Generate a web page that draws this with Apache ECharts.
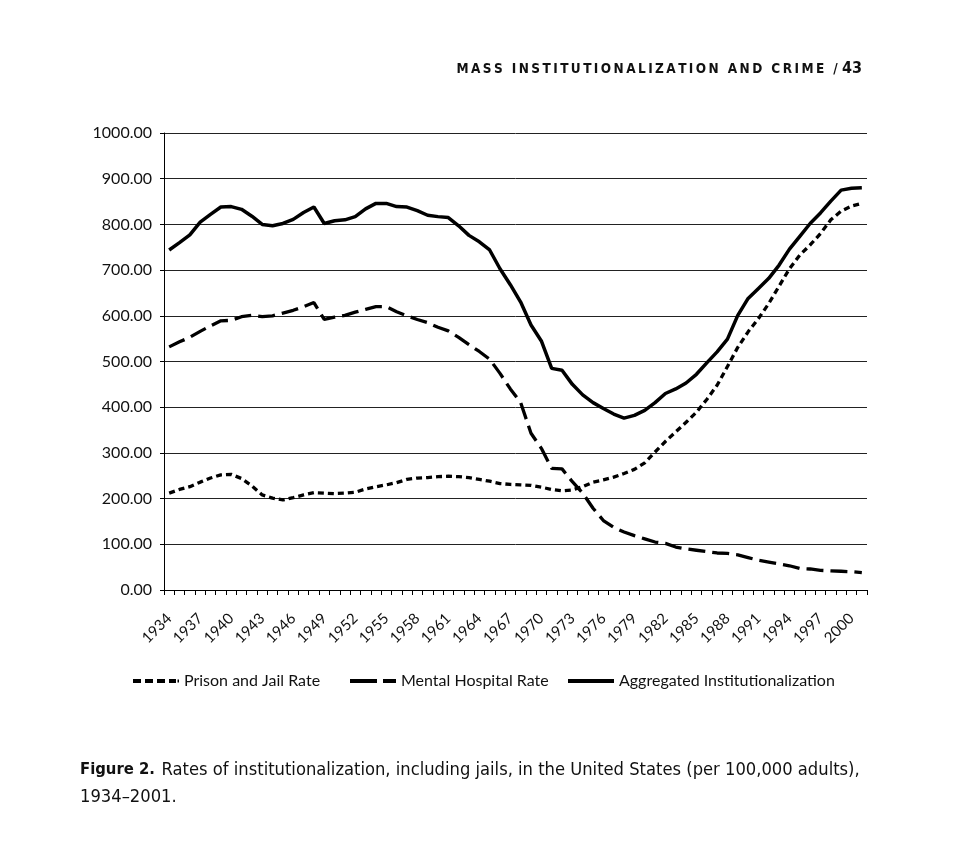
<!DOCTYPE html>
<html>
<head>
<meta charset="utf-8">
<script src="https://cdn.jsdelivr.net/npm/echarts@6/dist/echarts.min.js"></script>
<style>
html,body{margin:0;padding:0;background:#fff;}
#c{width:958px;height:852px;}
</style>
</head>
<body>
<div id="c"></div>
<script>
const years = [];
for (let y = 1934; y <= 2001; y++) years.push(String(y));

const prisonJail = [212,220,226,236,245,252,253,244,228,208,201,197,202,208,213,212,211,212,214,221,
  226,230,235,242,245,246,248,249,248,246,242,238,233,231,230,229,225,220,217,219,
  226,236,241,247,255,264,278,302,325,346,367,389,417,448,489,531,565,594,627,665,
  703,733,755,780,810,829,840,846];

const mentalHospital = [532,543,553,566,578,589,590,598,601,598,600,606,612,620,629,592,597,601,608,614,
  620,620,609,600,592,585,575,567,553,537,522,505,474,440,410,343,310,266,265,237,
  212,179,152,137,127,119,112,105,102,94,90,87,84,81,80,77,71,65,61,57,
  53,47,46,43,42,41,40,38];

const aggregated = [744,760,777,805,822,838,839,833,818,800,797,802,811,826,838,802,808,810,817,834,
  846,846,839,838,830,820,817,815,797,776,762,744,703,668,630,580,545,485,481,450,
  427,410,397,385,376,382,393,410,430,440,453,472,497,521,549,601,638,660,682,711,
  746,774,802,825,851,875,879,880];

const seriesNames = ['Prison and Jail Rate','Mental Hospital Rate','Aggregated Institutionalization'];
const headerText = 'MASS INSTITUTIONALIZATION AND CRIME /';
const headerPage = '43';
const captionBold = 'Figure 2.';
const captionLine1 = 'Rates of institutionalization, including jails, in the United States (per 100,000 adults),';
const captionLine2 = '1934\u20132001.';

const chart = echarts.init(document.getElementById('c'), null, {renderer:'canvas'});
const lblFont = 'Lato, "Open Sans", sans-serif';
const capFont = '"DejaVu Sans Condensed", "Liberation Sans Narrow", sans-serif';
const spaced = headerText.split('').join('\u2009');

const legendIcons = [
  'path://M0,0h8v4h-8z M12,0h8v4h-8z M24,0h8v4h-8z M36,0h7v4h-7z M44.5,0.5h1.5v3h-1.5z',
  'path://M0,0h27v4h-27z M33,0h13v4h-13z',
  'path://M0,0h46v4h-46z'
];

function legendAt(i, left){
  return {
    data:[{name:seriesNames[i], icon:legendIcons[i]}], left:left, top:673, padding:0,
    itemWidth:46, itemHeight:4, itemGap:0, symbolKeepAspect:false,
    itemStyle:{color:'#000'},
    textStyle:{fontFamily:lblFont, fontSize:16, color:'#111'}
  };
}

chart.setOption({
  backgroundColor:'#fff',
  animation:false,
  grid:{left:164, right:91, top:133, bottom:262, containLabel:false},
  legend:[legendAt(0,133), legendAt(1,350), legendAt(2,568)],
  xAxis:{
    type:'category', data:years, boundaryGap:true,
    axisLine:{lineStyle:{color:'#000', width:1}},
    axisTick:{show:true, interval:0, length:5, lineStyle:{color:'#000'}},
    axisLabel:{interval:2, rotate:45, fontFamily:lblFont, fontSize:15, color:'#111', margin:26},
    splitLine:{show:false}
  },
  yAxis:{
    type:'value', min:0, max:1000, interval:100,
    axisLine:{show:true, lineStyle:{color:'#000', width:1}},
    axisTick:{show:true, length:4, lineStyle:{color:'#000'}},
    axisLabel:{formatter:v=>v.toFixed(2), fontFamily:lblFont, fontSize:16, color:'#111', margin:12},
    splitLine:{show:true, lineStyle:{color:'#222', width:1}}
  },
  series:[
    {name:seriesNames[0], type:'line', data:prisonJail, symbol:'none',
      lineStyle:{color:'#000', width:3.3, type:[6,4]}, itemStyle:{color:'#000'}},
    {name:seriesNames[1], type:'line', data:mentalHospital, symbol:'none',
      lineStyle:{color:'#000', width:3.3, type:[17,7]}, itemStyle:{color:'#000'}},
    {name:seriesNames[2], type:'line', data:aggregated, symbol:'none',
      lineStyle:{color:'#000', width:3.5, type:'solid'}, itemStyle:{color:'#000'}}
  ],
  graphic:[
    {type:'text', right:96, top:61, style:{
      text:'{a|'+spaced+'}{a| }{b|'+headerPage+'}',
      rich:{
        a:{fontFamily:capFont, fontSize:13.5, fontWeight:'bold', fill:'#111'},
        b:{fontFamily:capFont, fontSize:16, fontWeight:'bold', fill:'#111'}
      }}},
    {type:'text', left:80, top:761, style:{
      text:'{a|'+captionBold+'}  {b|'+captionLine1+'}',
      rich:{
        a:{fontFamily:capFont, fontSize:16.5, fontWeight:'bold', fill:'#111'},
        b:{fontFamily:capFont, fontSize:18.2, fill:'#111'}
      }}},
    {type:'text', left:80, top:788, style:{
      text:captionLine2, fontFamily:capFont, fontSize:18.2, fill:'#111'}}
  ]
});
</script>
</body>
</html>
